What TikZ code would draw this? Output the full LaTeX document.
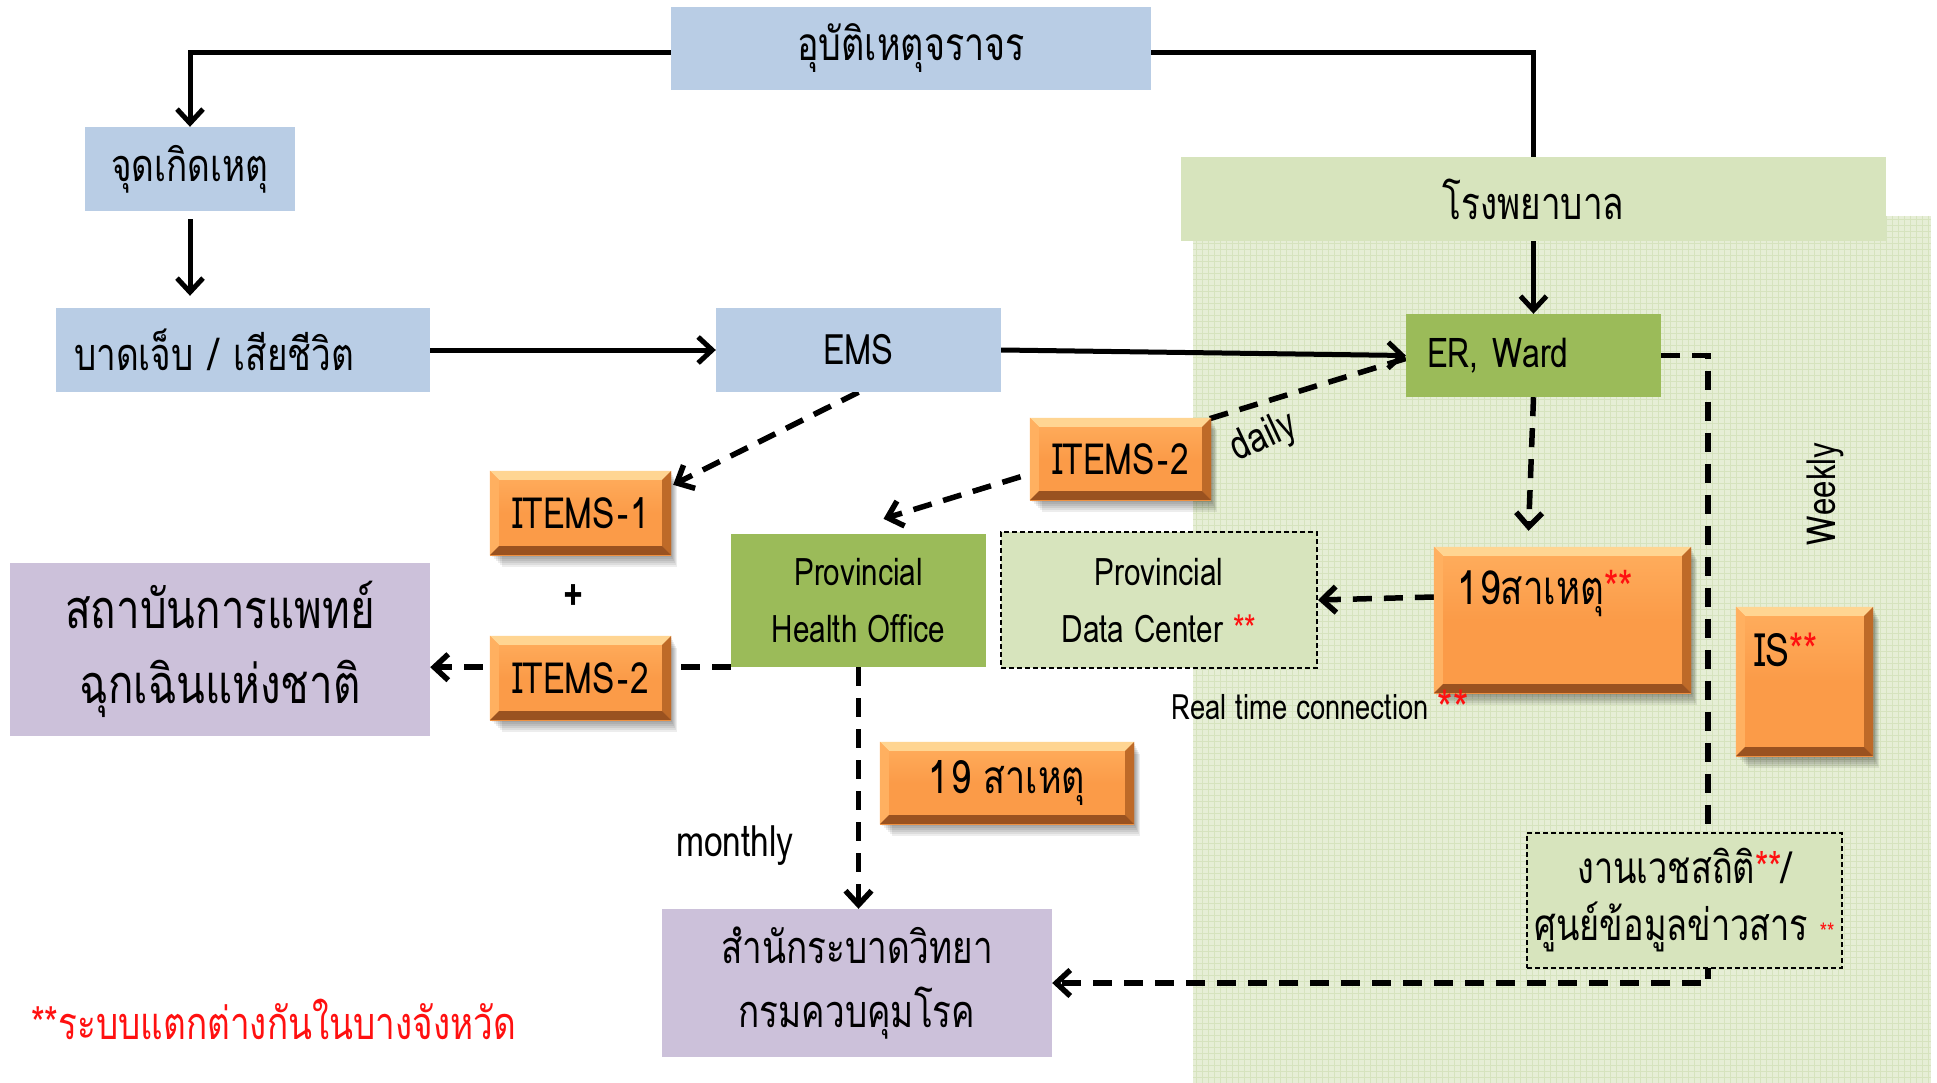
\documentclass[tikz,border=0pt]{standalone}
\usepackage{fontspec}
\setmainfont{Loma}[Script=Thai,FakeStretch=0.78]
\usetikzlibrary{arrows.meta,calc}
\definecolor{bluebox}{HTML}{B9CDE5}
\definecolor{lgreen}{HTML}{D7E4BD}
\definecolor{dgreen}{HTML}{9BBB59}
\definecolor{purp}{HTML}{CCC1DA}
\definecolor{orng}{HTML}{FB9B48}
\definecolor{orngtop}{HTML}{FFAE5E}
\definecolor{olight}{HTML}{FFD592}
\definecolor{oleft}{HTML}{FFB060}
\definecolor{odark}{HTML}{9A5220}
\definecolor{oright}{HTML}{BE6A28}
\definecolor{regbg}{HTML}{E6EED6}
\definecolor{reggrid}{HTML}{D6E3BE}
\definecolor{redtxt}{HTML}{FF1010}
\pgfdeclarelayer{back}
\pgfdeclarelayer{shad}
\pgfdeclarelayer{conn}
\pgfsetlayers{back,shad,conn,main}
\newcommand\obevel[1]{%
  \begin{pgfonlayer}{shad}
    \foreach \s in {2,4,...,12}{
      \fill[black, opacity=0.07] ($(#1.north west)+(\s,\s)$) rectangle ($(#1.south east)+(\s/2,\s)$);
    }
  \end{pgfonlayer}
  \fill[olight] (#1.north west) -- (#1.north east) -- ($(#1.north east)+(-9,9)$) -- ($(#1.north west)+(9,9)$) -- cycle;
  \fill[oleft] (#1.north west) -- (#1.south west) -- ($(#1.south west)+(9,-9)$) -- ($(#1.north west)+(9,9)$) -- cycle;
  \fill[oright] (#1.north east) -- (#1.south east) -- ($(#1.south east)+(-9,-9)$) -- ($(#1.north east)+(-9,9)$) -- cycle;
  \fill[odark] (#1.south west) -- (#1.south east) -- ($(#1.south east)+(-9,-9)$) -- ($(#1.south west)+(9,-9)$) -- cycle;
}
\tikzset{
  box/.style={rectangle, inner sep=0pt, align=center, font=\fontsize{38}{57}\selectfont},
  thai/.style={font=\fontsize{45}{57}\selectfont},
  bbox/.style={box, fill=bluebox},
  gbox/.style={box, fill=dgreen},
  lbox/.style={box, fill=lgreen},
  pbox/.style={box, fill=purp},
  obox/.style={box, top color=orngtop, bottom color=orng, middle color=orng},
  dbox/.style={box, fill=lgreen, draw=black, line width=2pt, dash pattern=on 5pt off 3pt},
  arr/.style={line width=5pt, -{Straight Barb[length=14pt,width=26pt]}},
  plainline/.style={line width=5pt},
  darr/.style={line width=5.5pt, dash pattern=on 19pt off 12pt, -{Straight Barb[length=14pt,width=26pt]}},
  txt/.style={inner sep=0pt, font=\fontsize{42}{44}\selectfont},
}
\begin{document}
\begin{tikzpicture}[x=1pt,y=-1pt]
\useasboundingbox (0,0) rectangle (1937,1083);
\begin{pgfonlayer}{back}
  \fill[white] (0,0) rectangle (1937,1083);
  \fill[regbg] (1193,216) rectangle (1931,1083);
  \foreach \gy in {219,225,...,1083}{\draw[reggrid, line width=0.8pt] (1193,\gy) -- (1931,\gy);}
  \foreach \gx in {1196,1202,...,1931}{\draw[reggrid, line width=0.8pt] (\gx,216) -- (\gx,1083);}
\end{pgfonlayer}

% blue boxes
\node[bbox, thai, font=\fontsize{46}{57}\selectfont, minimum width=480pt, minimum height=83pt] (acc) at (911,48.5) {อุบัติเหตุจราจร};
\node[bbox, thai, minimum width=210pt, minimum height=84pt] (scene) at (190,169) {จุดเกิดเหตุ};
\node[bbox, thai, minimum width=374pt, minimum height=84pt, inner xsep=18pt, text width=338pt, align=left] (inj) at (243,350) {บาดเจ็บ / เสียชีวิต};
\node[bbox, font=\fontsize{42}{57}\selectfont, minimum width=285pt, minimum height=84pt] (ems) at (858.5,350) {EMS};
% hospital
\node[lbox, thai, minimum width=705pt, minimum height=84pt] (hosp) at (1533.5,199) {โรงพยาบาล};
\node[gbox, font=\fontsize{41}{57}\selectfont, minimum width=255pt, minimum height=83pt, inner xsep=21pt, text width=213pt, align=left] (er) at (1533.5,355.5) {ER, Ward};
% orange
\node[obox, font=\fontsize{43}{57}\selectfont, minimum width=181pt, minimum height=82pt] (itemsa) at (1120.5,459) {ITEMS\kern2pt-\kern2pt2};
\obevel{itemsa}
\node[obox, font=\fontsize{43}{57}\selectfont, minimum width=181pt, minimum height=84pt] (items1) at (580.5,513) {ITEMS\kern2pt-\kern2pt1};
\obevel{items1}
\node[obox, font=\fontsize{43}{57}\selectfont, minimum width=181pt, minimum height=84pt] (itemsb) at (580.5,678) {ITEMS\kern2pt-\kern2pt2};
\obevel{itemsb}
\node[obox, minimum width=257pt, minimum height=146pt] (c19) at (1562.5,620) {};
\obevel{c19}
\node[txt, font=\fontsize{47}{48}\selectfont, anchor=north west] (c19t) at (1457,570) {1\kern3pt9สาเหตุ\textcolor{redtxt}{**}};
\node[obox, minimum width=137pt, minimum height=149pt] (is) at (1804.5,681.5) {};
\obevel{is}
\node[txt, font=\fontsize{46}{48}\selectfont, anchor=west] (ist) at (1754,650) {IS\textcolor{redtxt}{**}};
\node[obox, font=\fontsize{46}{57}\selectfont, minimum width=254pt, minimum height=82pt] (c19b) at (1007,783) {1\kern3pt9 สาเหตุ};
\obevel{c19b}
% green
\node[gbox, minimum width=255pt, minimum height=133pt] (pho) at (858.5,600.5) {Provincial\\Health Office};
\node[dbox, minimum width=316pt, minimum height=136pt] (pdc) at (1159,600) {Provincial\\Data Center \textcolor{redtxt}{**}};
\node[dbox, font=\fontsize{44}{57}\selectfont, minimum width=315pt, minimum height=135pt] (stat) at (1684.5,900.5) {งานเวชสถิติ\textcolor{redtxt}{**}/\\ศูนย์ข้อมูลข่าวสาร {\fontsize{24}{24}\selectfont\textcolor{redtxt}{**}}};
% purple
\node[pbox, minimum width=420pt, minimum height=173pt, font=\fontsize{54}{75}\selectfont] (niem) at (220,649.5) {สถาบันการแพทย์\\ฉุกเฉินแห่งชาติ};
\node[pbox, minimum width=390pt, minimum height=148pt, font=\fontsize{45}{64}\selectfont] (boe) at (857,983) {สำนักระบาดวิทยา\\กรมควบคุมโรค};

% texts
\node[txt, font=\fontsize{44}{44}\selectfont\bfseries] (plus) at (574,598) {+};
\node[txt, font=\fontsize{43}{44}\selectfont] (monthly) at (735,846) {monthly};
\node[txt, rotate=25, font=\fontsize{42}{44}\selectfont] (daily) at (1264,438) {daily};
\node[txt, rotate=90, font=\fontsize{40}{42}\selectfont] (weekly) at (1825,494) {Weekly};
\node[txt, font=\fontsize{35}{36}\selectfont] (rtc) at (1300,707) {Real time connection};
\node[txt, font=\fontsize{50}{50}\selectfont, text=redtxt] (rtcs) at (1453,708) {**};
\node[txt, font=\fontsize{45}{46}\selectfont, text=redtxt, anchor=west] (note) at (31,1019) {**ระบบแตกต่างกันในบางจังหวัด};

\begin{pgfonlayer}{conn}
  \draw[arr] ([yshift=-4pt]acc.west) -| (scene.north);
  \draw[plainline] ([yshift=-4pt]acc.east) -| (hosp.north);
  \draw[arr] (hosp.south) -- (er.north);
  \draw[arr, shorten <=8pt, shorten >=12pt] (scene.south) -- (scene.south |- inj.north);
  \draw[arr] (inj.east) -- (ems.west);
  \draw[arr] (ems.east) -- (er.west);
  \draw[darr] (ems.south) -- ($(items1.north east)+(2,14)$);
  \draw[darr] ([yshift=-3pt]er.west) -- ($(pho.north)+(25,-15)$);
  \draw[darr] (er.south) -- ($(c19.north)+(-34,-16)$);
  \draw[darr] ($(c19.west)+(0,-23)$) -- (pdc.east);
  \draw[darr] (er.east) -- ++(47,0) |- (boe.east);
  \draw[darr] (pho.south west) -- (niem.east |- pho.south west);
  \draw[darr] (pho.south) -- (pho.south |- boe.north);
\end{pgfonlayer}
\end{tikzpicture}
\end{document}
